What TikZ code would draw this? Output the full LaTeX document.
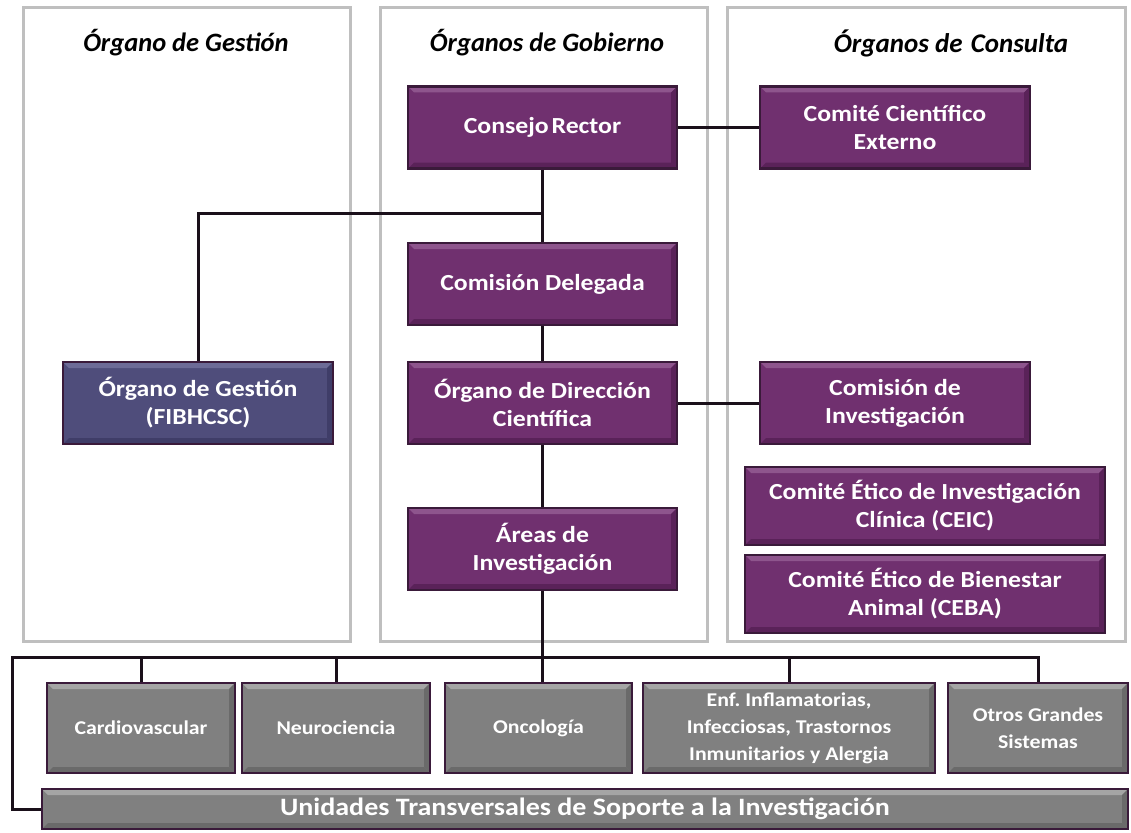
\documentclass[tikz,border=0pt]{standalone}
\usepackage{fontspec}
\setmainfont{Carlito}
\newfontfamily\boxfont[FakeStretch=1.12]{Carlito}
\usetikzlibrary{calc}
\frenchspacing
\definecolor{purp}{HTML}{70306F}
\definecolor{purpL}{HTML}{8E558D}
\definecolor{purpD}{HTML}{5A2259}
\definecolor{edge}{HTML}{3A1A3A}
\definecolor{grayF}{HTML}{808080}
\definecolor{grayL}{HTML}{A5A5A5}
\definecolor{grayD}{HTML}{6A6A6A}
\definecolor{slate}{HTML}{4F4D7B}
\definecolor{slateL}{HTML}{6D6B97}
\definecolor{slateD}{HTML}{3F3D68}
\definecolor{panel}{HTML}{BFBFBF}
\definecolor{wire}{HTML}{1A101A}
\newcommand\mybevel[2]{%
    \fill[#1] (path picture bounding box.north west) -- (path picture bounding box.north east)
      -- ([xshift=-6pt,yshift=-6pt]path picture bounding box.north east)
      -- ([xshift=6pt,yshift=-6pt]path picture bounding box.north west) -- cycle;
    \fill[#2] (path picture bounding box.north east) -- (path picture bounding box.south east)
      -- ([xshift=-6pt,yshift=6pt]path picture bounding box.south east)
      -- ([xshift=-6pt,yshift=-6pt]path picture bounding box.north east) -- cycle;
    \fill[#2] (path picture bounding box.south west) -- (path picture bounding box.south east)
      -- ([xshift=-6pt,yshift=6pt]path picture bounding box.south east)
      -- ([xshift=6pt,yshift=6pt]path picture bounding box.south west) -- cycle;}
\tikzset{
  boxbase/.style={rectangle, draw=edge, line width=2.5pt, text=white, align=center,
    inner sep=0pt, font=\boxfont\bfseries\fontsize{23}{28}\selectfont},
  pbox/.style={boxbase, fill=purp, path picture={\mybevel{purpL}{purpD}}},
  gbox/.style={boxbase, fill=grayF, path picture={\mybevel{grayL}{grayD}}, font=\boxfont\bfseries\fontsize{19.5}{27}\selectfont},
  sbox/.style={boxbase, fill=slate, path picture={\mybevel{slateL}{slateD}}},
  panelbox/.style={draw=panel, line width=3pt},
  head/.style={font=\bfseries\itshape\fontsize{26.5}{30}\selectfont, text=black},
  wirel/.style={draw=wire, line width=3pt}
}
\begin{document}
\begin{tikzpicture}[x=1pt,y=-1pt]
\useasboundingbox (0,0) rectangle (1131,832);
% panels
\draw[panelbox] (23,8) rectangle (350,641);
\draw[panelbox] (380,8) rectangle (707,641);
\draw[panelbox] (727,8) rectangle (1125,641);
\node[head] (h1) at (186,43) {Órgano de Gestión};
\node[head] (h2) at (547,43) {Órganos de Gobierno};
\node[head, font=\bfseries\itshape\fontsize{27}{30}\selectfont] (h3) at (951,43) {Órganos de\hspace{2pt} Consulta};
% nodes
\node[pbox, minimum width=269pt, minimum height=82pt] (cr) at (542.5,127.5) {Consejo\hspace{-3pt} Rector};
\node[pbox, minimum width=270pt, minimum height=82pt] (cce) at (895,127.5) {Comité Científico\\Externo};
\node[pbox, minimum width=269pt, minimum height=82pt] (cd) at (542.5,284) {Comisión Delegada};
\node[sbox, minimum width=270pt, minimum height=82pt] (og) at (198,403) {Órgano de Gestión\\(FIBHCSC)};
\node[pbox, minimum width=269pt, minimum height=82pt] (odc) at (542.5,403) {Órgano de Dirección\\Científica};
\node[pbox, minimum width=270pt, minimum height=82pt] (ci) at (895,403) {Comisión de\\Investigación};
\node[pbox, minimum width=269pt, minimum height=82pt] (ai) at (542.5,549) {Áreas de\\Investigación};
\node[pbox, minimum width=360pt, minimum height=78pt] (ceic) at (925,506) {Comité Ético de Investigación\\Clínica (CEIC)};
\node[pbox, minimum width=360pt, minimum height=78pt] (ceba) at (925,594) {Comité Ético de Bienestar\\Animal (CEBA)};
\node[gbox, minimum width=188pt, minimum height=90pt] (cv) at (141,728) {Cardiovascular};
\node[gbox, minimum width=188pt, minimum height=90pt] (neu) at (336,728) {Neurociencia};
\node[gbox, minimum width=187pt, minimum height=90pt] (onc) at (538.5,728) {Oncología};
\node[gbox, minimum width=292pt, minimum height=90pt] (enf) at (789,728) {Enf. Inflamatorias,\\Infecciosas, Trastornos\\Inmunitarios y Alergia};
\node[gbox, minimum width=180pt, minimum height=90pt] (otr) at (1038,728) {Otros Grandes\\Sistemas};
\node[gbox, minimum width=1086pt, minimum height=40pt, font=\boxfont\bfseries\fontsize{25}{28}\selectfont] (uts) at (585,809) {Unidades Transversales de Soporte a la Investigación};
% connectors
\coordinate (j1) at (542.5,213);
\coordinate (busL) at (12,657);
\draw[wirel] (cr.south) -- (cd.north);
\draw[wirel] (og.north) |- (j1);
\draw[wirel] (cr.east) -- (cce.west);
\draw[wirel] (cd.south) -- (odc.north);
\draw[wirel] (odc.east) -- (ci.west);
\draw[wirel] (odc.south) -- (ai.north);
\draw[wirel] (ai.south) -- (ai.south |- onc.north);
\draw[wirel] (uts.west) -| (busL) -| (otr.north);
\draw[wirel] (cv.north) -- (cv.north |- busL);
\draw[wirel] (neu.north) -- (neu.north |- busL);
\draw[wirel] (enf.north) -- (enf.north |- busL);
\end{tikzpicture}
\end{document}
